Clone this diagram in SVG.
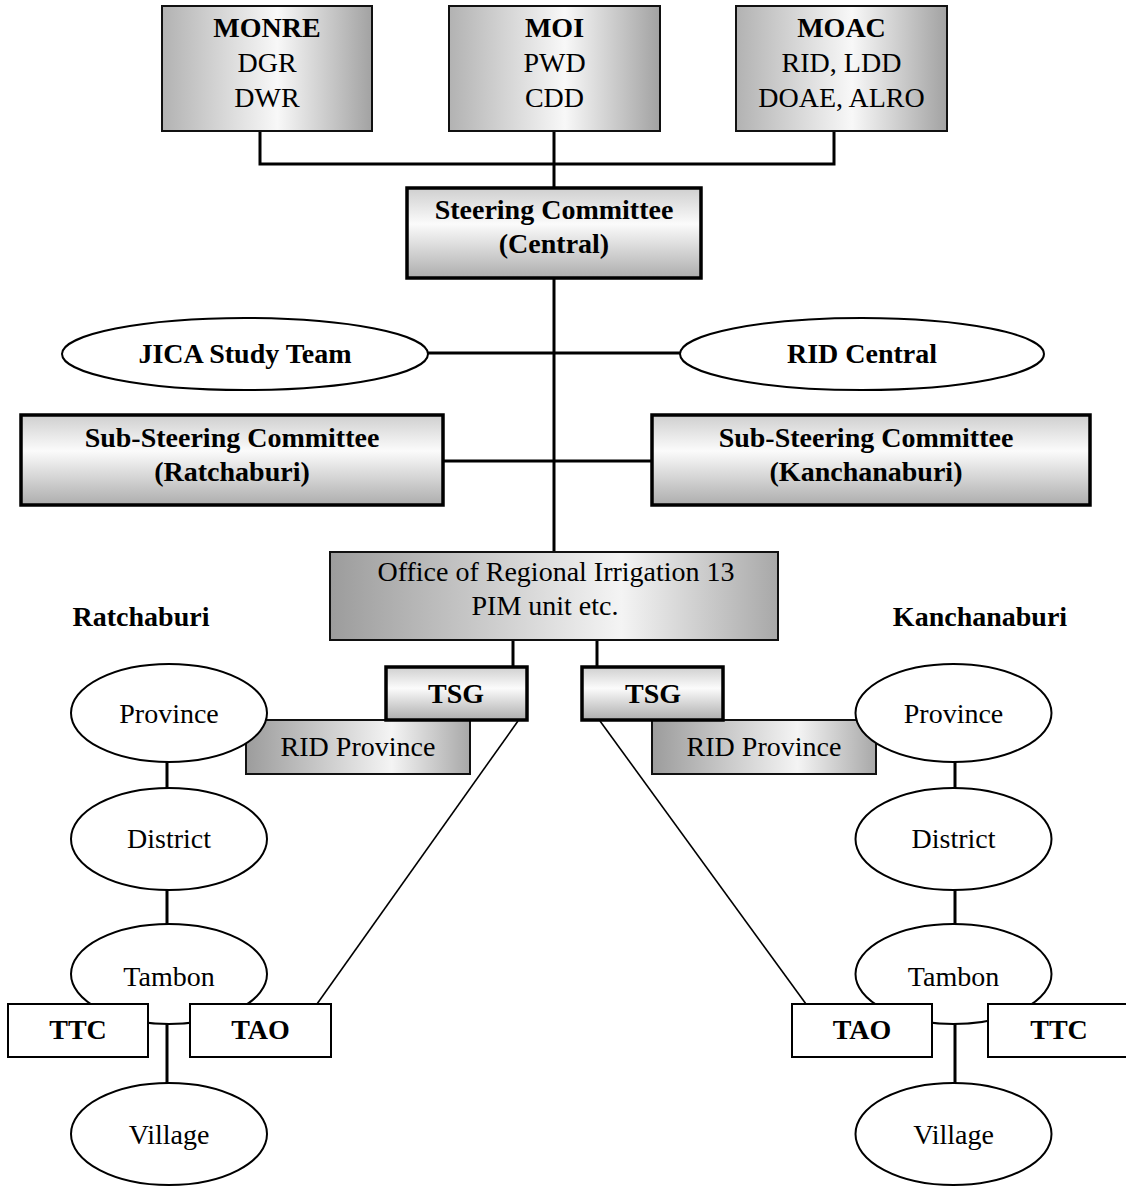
<svg xmlns="http://www.w3.org/2000/svg" width="1126" height="1186" viewBox="0 0 1126 1186">
  <defs>
    <!-- horizontal shading: grey edges, bright middle -->
    <linearGradient id="gradH" x1="0" y1="0" x2="1" y2="0">
      <stop offset="0" stop-color="#b2b2b2"/>
      <stop offset="0.55" stop-color="#f8f8f8"/>
      <stop offset="1" stop-color="#a2a2a2"/>
    </linearGradient>
    <!-- horizontal shading: dark left, bright right of centre -->
    <linearGradient id="gradH2" x1="0" y1="0" x2="1" y2="0">
      <stop offset="0" stop-color="#9c9c9c"/>
      <stop offset="0.65" stop-color="#f4f4f4"/>
      <stop offset="1" stop-color="#a8a8a8"/>
    </linearGradient>
    <!-- vertical shading for committee boxes -->
    <linearGradient id="gradV" x1="0" y1="0" x2="0" y2="1">
      <stop offset="0" stop-color="#cfcfcf"/>
      <stop offset="0.4" stop-color="#fbfbfb"/>
      <stop offset="1" stop-color="#adadad"/>
    </linearGradient>
    <style>
      text { font-family: "Liberation Serif", "Times New Roman", serif; font-size: 28px; fill: #000; text-anchor: middle; }
      .b { font-weight: bold; }
      .boxH { fill: url(#gradH); stroke: #111; stroke-width: 2; }
      .boxH2 { fill: url(#gradH2); stroke: #111; stroke-width: 2; }
      .boxV { fill: url(#gradV); stroke: #000; stroke-width: 3.5; }
      .plain { fill: #fff; stroke: #000; stroke-width: 2; }
      .ell { fill: #fff; stroke: #000; stroke-width: 2; }
      .conn { fill: none; stroke: #000; stroke-width: 3; }
      .thin { fill: none; stroke: #000; stroke-width: 1.6; }
    </style>
  </defs>

  <rect width="1126" height="1186" fill="#fff"/>

  <g id="connectors">
    <polyline class="conn" points="260,131 260,164 834,164 834,131"/>
    <line class="conn" x1="554" y1="131" x2="554" y2="552"/>
    <line class="conn" x1="428" y1="353" x2="680" y2="353"/>
    <line class="conn" x1="443" y1="461" x2="652" y2="461"/>
    <line class="conn" x1="513" y1="640" x2="513" y2="668"/>
    <line class="conn" x1="597" y1="640" x2="597" y2="668"/>
    <line class="conn" x1="167" y1="762" x2="167" y2="1083"/>
    <line class="conn" x1="955" y1="762" x2="955" y2="1083"/>
    <line class="thin" x1="518" y1="721" x2="317" y2="1004"/>
    <line class="thin" x1="600" y1="721" x2="806" y2="1004"/>
  </g>

  <g id="monre">
    <rect class="boxH" x="162" y="6" width="210" height="125"/>
    <text class="b" x="267" y="37">MONRE</text>
    <text x="267" y="72">DGR</text>
    <text x="267" y="107">DWR</text>
  </g>
  <g id="moi">
    <rect class="boxH" x="449" y="6" width="211" height="125"/>
    <text class="b" x="554.5" y="37">MOI</text>
    <text x="554.5" y="72">PWD</text>
    <text x="554.5" y="107">CDD</text>
  </g>
  <g id="moac">
    <rect class="boxH" x="736" y="6" width="211" height="125"/>
    <text class="b" x="841.5" y="37">MOAC</text>
    <text x="841.5" y="72">RID, LDD</text>
    <text x="841.5" y="107">DOAE, ALRO</text>
  </g>

  <g id="steering-central">
    <rect class="boxV" x="407" y="188" width="294" height="90"/>
    <text class="b" x="554" y="219">Steering Committee</text>
    <text class="b" x="554" y="253">(Central)</text>
  </g>

  <g id="jica">
    <ellipse class="ell" cx="245" cy="354" rx="183" ry="36"/>
    <text class="b" x="245" y="363">JICA Study Team</text>
  </g>
  <g id="rid-central">
    <ellipse class="ell" cx="862" cy="354" rx="182" ry="36"/>
    <text class="b" x="862" y="363">RID Central</text>
  </g>

  <g id="sub-steering-ratchaburi">
    <rect class="boxV" x="21" y="415" width="422" height="90"/>
    <text class="b" x="232" y="447">Sub-Steering Committee</text>
    <text class="b" x="232" y="481">(Ratchaburi)</text>
  </g>
  <g id="sub-steering-kanchanaburi">
    <rect class="boxV" x="652" y="415" width="438" height="90"/>
    <text class="b" x="866" y="447">Sub-Steering Committee</text>
    <text class="b" x="866" y="481">(Kanchanaburi)</text>
  </g>

  <g id="regional-office">
    <rect class="boxH2" x="330" y="552" width="448" height="88"/>
    <text x="556" y="581">Office of Regional Irrigation 13</text>
    <text x="545" y="615">PIM unit etc.</text>
  </g>

  <g id="label-ratchaburi">
    <text class="b" x="141" y="626">Ratchaburi</text>
  </g>
  <g id="label-kanchanaburi">
    <text class="b" x="980" y="626">Kanchanaburi</text>
  </g>

  <g id="rid-province-left">
    <rect class="boxH2" x="246" y="720" width="224" height="54"/>
    <text x="358" y="756">RID Province</text>
  </g>
  <g id="rid-province-right">
    <rect class="boxH2" x="652" y="720" width="224" height="54"/>
    <text x="764" y="756">RID Province</text>
  </g>

  <g id="tsg-left">
    <rect class="boxV" x="386" y="667" width="141" height="53"/>
    <text class="b" x="456" y="703">TSG</text>
  </g>
  <g id="tsg-right">
    <rect class="boxV" x="582" y="667" width="141" height="53"/>
    <text class="b" x="653" y="703">TSG</text>
  </g>

  <!-- Ratchaburi administrative chain -->
  <g id="province-left">
    <ellipse class="ell" cx="169" cy="713" rx="98" ry="49"/>
    <text x="169" y="723">Province</text>
  </g>
  <g id="district-left">
    <ellipse class="ell" cx="169" cy="839" rx="98" ry="51"/>
    <text x="169" y="848">District</text>
  </g>
  <g id="tambon-left">
    <ellipse class="ell" cx="169" cy="974" rx="98" ry="50"/>
    <text x="169" y="986">Tambon</text>
  </g>
  <g id="ttc-left">
    <rect class="plain" x="8" y="1004" width="140" height="53"/>
    <text class="b" x="78" y="1039">TTC</text>
  </g>
  <g id="tao-left">
    <rect class="plain" x="190" y="1004" width="141" height="53"/>
    <text class="b" x="260.5" y="1039">TAO</text>
  </g>
  <g id="village-left">
    <ellipse class="ell" cx="169" cy="1134" rx="98" ry="51"/>
    <text x="169" y="1144">Village</text>
  </g>

  <!-- Kanchanaburi administrative chain -->
  <g id="province-right">
    <ellipse class="ell" cx="953.5" cy="713" rx="98" ry="49"/>
    <text x="953.5" y="723">Province</text>
  </g>
  <g id="district-right">
    <ellipse class="ell" cx="953.5" cy="839" rx="98" ry="51"/>
    <text x="953.5" y="848">District</text>
  </g>
  <g id="tambon-right">
    <ellipse class="ell" cx="953.5" cy="974" rx="98" ry="50"/>
    <text x="953.5" y="986">Tambon</text>
  </g>
  <g id="tao-right">
    <rect class="plain" x="792" y="1004" width="140" height="53"/>
    <text class="b" x="862" y="1039">TAO</text>
  </g>
  <g id="ttc-right">
    <rect class="plain" x="988" y="1004" width="150" height="53"/>
    <text class="b" x="1059" y="1039">TTC</text>
  </g>
  <g id="village-right">
    <ellipse class="ell" cx="953.5" cy="1134" rx="98" ry="51"/>
    <text x="953.5" y="1144">Village</text>
  </g>
</svg>
